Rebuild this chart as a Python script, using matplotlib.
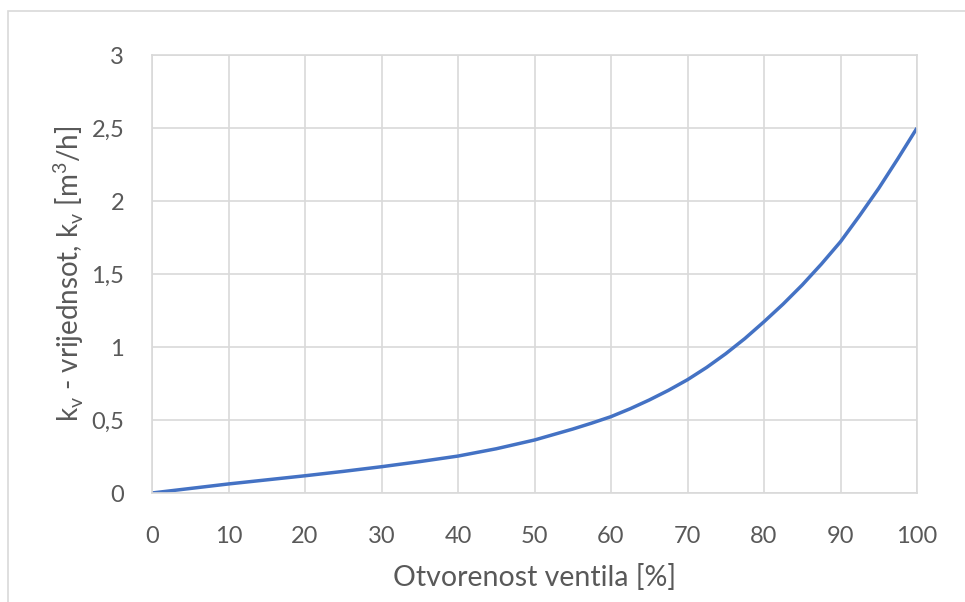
import matplotlib.pyplot as plt
from matplotlib.patches import Rectangle

# otvorenost ventila [%] i ocitane kv vrijednosti [m3/h]
otvorenost = [0, 5, 10, 15, 20, 25, 30, 35, 40, 45, 50,
              55, 57.5, 60, 62.5, 65, 67.5, 70, 72.5, 75, 77.5,
              80, 82.5, 85, 87.5, 90, 92.5, 95, 97.5, 100]
kv = [0.0, 0.031, 0.062, 0.09, 0.118, 0.148, 0.18, 0.215, 0.253, 0.303, 0.363,
      0.438, 0.479, 0.523, 0.577, 0.637, 0.703, 0.776, 0.86, 0.954, 1.058,
      1.173, 1.294, 1.425, 1.568, 1.721, 1.9, 2.087, 2.29, 2.5]

x_ticks = [0, 10, 20, 30, 40, 50, 60, 70, 80, 90, 100]
y_ticks = [0, 0.5, 1, 1.5, 2, 2.5, 3]
y_labels = ['0', '0,5', '1', '1,5', '2', '2,5', '3']

plt.rcParams['font.family'] = ['Lato', 'DejaVu Sans']
plt.rcParams['mathtext.fontset'] = 'custom'
plt.rcParams['mathtext.rm'] = 'Lato'

fig = plt.figure(figsize=(9.65, 6.02), dpi=100)
# okvir grafikona
fig.patches.append(Rectangle((8 / 965, -0.1), 1.1, 1 - 11 / 602 + 0.1,
                             transform=fig.transFigure, fill=False,
                             edgecolor='#D9D9D9', linewidth=1.2))

ax = fig.add_axes([152 / 965, 109 / 602, 765 / 965, 438 / 602])
ax.plot(otvorenost, kv, color='#4472C4', linewidth=2.5,
        solid_capstyle='butt', solid_joinstyle='round')

ax.set_xlim(0, 100)
ax.set_ylim(0, 3)
ax.set_xticks(x_ticks)
ax.set_yticks(y_ticks)
ax.set_yticklabels(y_labels)
ax.grid(True, color='#D9D9D9', linewidth=1.2)
ax.set_axisbelow(True)
for s in ax.spines.values():
    s.set_color('#D9D9D9')
    s.set_linewidth(1.2)
ax.tick_params(length=0, labelsize=17, labelcolor='#595959')
ax.tick_params(axis='x', pad=24)
ax.tick_params(axis='y', pad=20)

ax.set_xlabel('Otvorenost ventila [%]', fontsize=20.5, color='#595959', labelpad=12)
ax.set_ylabel(r'k$_\mathregular{v}$ - vrijednsot, k$_\mathregular{v}$ [m$^\mathregular{3}$/h]',
              fontsize=20, color='#595959', labelpad=4)

fig.savefig('out.png', dpi=100)
